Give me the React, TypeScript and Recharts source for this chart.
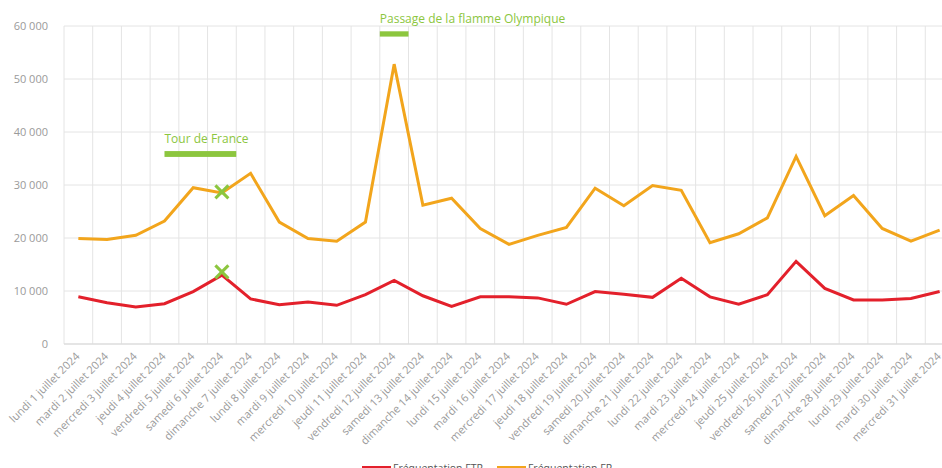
import React from 'react';
import { LineChart, Line, XAxis, YAxis, CartesianGrid, ReferenceArea, ReferenceDot, Legend } from 'recharts';

const days = [
  'lundi 1 juillet 2024', 'mardi 2 juillet 2024', 'mercredi 3 juillet 2024', 'jeudi 4 juillet 2024',
  'vendredi 5 juillet 2024', 'samedi 6 juillet 2024', 'dimanche 7 juillet 2024', 'lundi 8 juillet 2024',
  'mardi 9 juillet 2024', 'mercredi 10 juillet 2024', 'jeudi 11 juillet 2024', 'vendredi 12 juillet 2024',
  'samedi 13 juillet 2024', 'dimanche 14 juillet 2024', 'lundi 15 juillet 2024', 'mardi 16 juillet 2024',
  'mercredi 17 juillet 2024', 'jeudi 18 juillet 2024', 'vendredi 19 juillet 2024', 'samedi 20 juillet 2024',
  'dimanche 21 juillet 2024', 'lundi 22 juillet 2024', 'mardi 23 juillet 2024', 'mercredi 24 juillet 2024',
  'jeudi 25 juillet 2024', 'vendredi 26 juillet 2024', 'samedi 27 juillet 2024', 'dimanche 28 juillet 2024',
  'lundi 29 juillet 2024', 'mardi 30 juillet 2024', 'mercredi 31 juillet 2024'
];

const ftr = [
  8900, 7800, 7000, 7600, 9900, 13000, 8500, 7400, 7900, 7300, 9300, 12000, 9100, 7100, 8900, 8900,
  8700, 7500, 9900, 9400, 8800, 12400, 8900, 7500, 9300, 15600, 10500, 8300, 8300, 8600, 9900
];

const fr = [
  19900, 19700, 20500, 23200, 29500, 28500, 32200, 23000, 19900, 19400, 23000, 52800, 26200, 27500, 21800, 18800,
  20500, 22000, 29400, 26100, 29900, 29000, 19100, 20800, 23800, 35400, 24200, 28000, 21800, 19400, 21500
];

const yTicks = [0, 10000, 20000, 30000, 40000, 50000, 60000];

const markerDay = 'samedi 6 juillet 2024';
const markerValues = [28700, 13600];

const tourDays = ['jeudi 4 juillet 2024', 'samedi 6 juillet 2024'];
const tourRange = [35300, 36400];
const flameDays = ['vendredi 12 juillet 2024', 'vendredi 12 juillet 2024'];
const flameRange = [58000, 59000];

const data = days.map((day, i) => ({ day, ftr: ftr[i], fr: fr[i] }));

const GREEN = '#8cc63e';
const RED = '#e3202b';
const ORANGE = '#f2a51c';

const fmt = (v: number) => (v === 0 ? '0' : `${Math.round(v / 1000)} 000`);

// vertical grid lines sit on the boundaries between day bands
const bandEdges = ({ offset }: any) =>
  days.map((_, i) => offset.left + (i * offset.width) / days.length).concat(offset.left + offset.width);

const DayTick = ({ x, y, payload }: any) => {
  const tx = x + 2;
  const ty = y + 13;
  return (
    <text x={tx} y={ty} transform={`rotate(-45, ${tx}, ${ty})`} textAnchor="end" fontSize={11} fill="#9a9a9a">
      {payload.value}
    </text>
  );
};

const Cross = ({ cx, cy }: any) => (
  <g stroke={GREEN} strokeWidth={3}>
    <line x1={cx - 6.5} y1={cy - 6.5} x2={cx + 6.5} y2={cy + 6.5} />
    <line x1={cx - 6.5} y1={cy + 6.5} x2={cx + 6.5} y2={cy - 6.5} />
  </g>
);

const EventLabel = ({ viewBox, value, shift = 0 }: any) => (
  <text x={viewBox.x + viewBox.width * shift} y={viewBox.y - 8} fill={GREEN} fontSize={12}>
    {value}
  </text>
);

const LegendBox = () => (
  <div style={{ display: 'flex', justifyContent: 'flex-start', fontSize: 10.5, color: '#555', lineHeight: '20px', height: 20, paddingLeft: 362 }}>
    {[
      ['Fréquentation FTR', RED],
      ['Fréquentation FR', ORANGE]
    ].map(([name, color]) => (
      <div key={name} style={{ display: 'flex', alignItems: 'center', marginRight: 14 }}>
        <span style={{ display: 'inline-block', width: 29, height: 4, background: color, marginRight: 2 }} />
        {name}
      </div>
    ))}
  </div>
);

export default function App() {
  return (
    <div style={{ position: 'absolute', left: 0, top: 0, width: 942, height: 468, overflow: 'hidden', background: '#fff', fontFamily: '"Open Sans", sans-serif' }}>
      <LineChart width={960} height={478} data={data} margin={{ top: 26, right: 6, bottom: 0, left: 0 }}>
        <CartesianGrid stroke="#e4e4e4" verticalCoordinatesGenerator={bandEdges} />
        <XAxis
          dataKey="day"
          scale="band"
          interval={0}
          tick={<DayTick />}
          tickLine={false}
          axisLine={{ stroke: '#d9d9d9' }}
          tickSize={0}
          tickMargin={0}
          height={114}
        />
        <YAxis
          domain={[0, 60000]}
          ticks={yTicks}
          tickFormatter={fmt}
          axisLine={false}
          tickLine={false}
          width={64}
          tickMargin={10}
          tick={{ fill: '#9a9a9a', fontSize: 11 }}
        />
        <ReferenceArea
          x1={tourDays[0]}
          x2={tourDays[1]}
          y1={tourRange[0]}
          y2={tourRange[1]}
          shape={(p: any) => <rect x={p.x + p.width / 6} y={p.y} width={(p.width * 5) / 6} height={p.height} fill={GREEN} />}
          label={<EventLabel value="Tour de France" shift={1 / 6} />}
        />
        <ReferenceArea
          x1={flameDays[0]}
          x2={flameDays[1]}
          y1={flameRange[0]}
          y2={flameRange[1]}
          fill={GREEN}
          fillOpacity={1}
          label={<EventLabel value="Passage de la flamme Olympique" />}
        />
        <Line type="linear" dataKey="ftr" name="Fréquentation FTR" stroke={RED} strokeWidth={3} dot={false} isAnimationActive={false} />
        <Line type="linear" dataKey="fr" name="Fréquentation FR" stroke={ORANGE} strokeWidth={3} dot={false} isAnimationActive={false} />
        {markerValues.map((v) => (
          <ReferenceDot key={v} x={markerDay} y={v} shape={<Cross />} />
        ))}
        <Legend verticalAlign="bottom" height={20} content={<LegendBox />} />
      </LineChart>
    </div>
  );
}
